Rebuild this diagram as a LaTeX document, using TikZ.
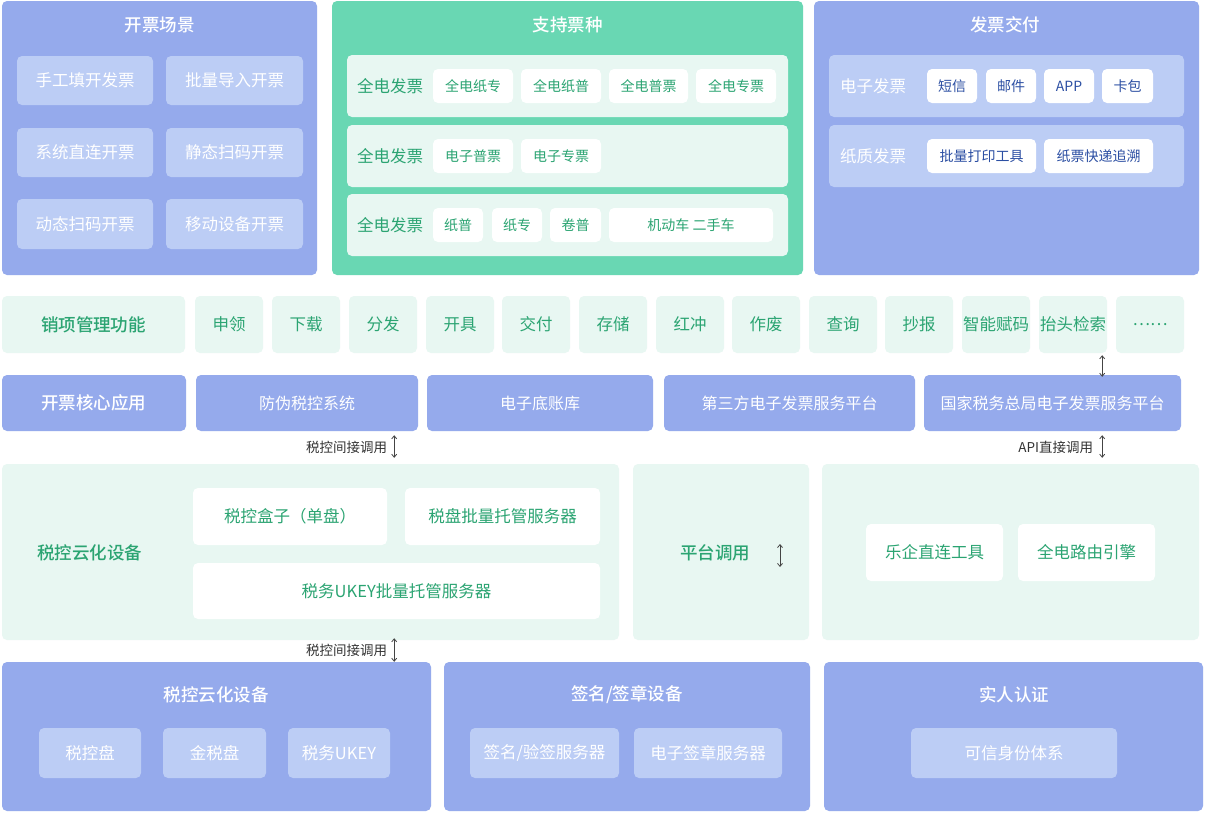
\documentclass[tikz,border=0pt]{standalone}
\usepackage{fontspec}
\setmainfont{Noto Sans CJK SC}[BoldFont={Noto Sans CJK SC Medium}]
\usetikzlibrary{arrows.meta}
\definecolor{pblue}{HTML}{95AAEC}
\definecolor{lblue}{HTML}{BCCDF5}
\definecolor{pgreen}{HTML}{69D7B3}
\definecolor{lgreen}{HTML}{E8F7F2}
\definecolor{tgreen}{HTML}{2BA472}
\definecolor{tblue}{HTML}{2C4FA3}
\definecolor{arrc}{HTML}{444444}
\definecolor{lblc}{HTML}{333333}
\newcommand\fsz[1]{\fontsize{#1}{#1}\selectfont}
\newcommand\mybox[7]{\node[#6, minimum width={#4pt-#2pt}, minimum height={#5pt-#3pt}] (#1) at ({(#2+#4)/2},{(#3+#5)/2}) {#7};}
\begin{document}
\begin{tikzpicture}[x=1pt,y=-1pt,
  base/.style={rounded corners=5pt, inner sep=0pt, draw=none},
  panelB/.style={base, fill=pblue},
  panelG/.style={base, fill=pgreen},
  lgbg/.style={base, fill=lgreen},
  lbbg/.style={base, fill=lblue},
  inB/.style={base, fill=lblue, text=white, font=\fsz{16.5}},
  wG/.style={base, fill=white, text=tgreen, font=\fsz{14}},
  wGL/.style={base, fill=white, text=tgreen, font=\fsz{16.5}},
  wB/.style={base, fill=white, text=tblue, font=\fsz{14}},
  lgItem/.style={base, fill=lgreen, text=tgreen, font=\fsz{16.5}},
  lgHead/.style={base, fill=lgreen, text=tgreen, font=\fsz{17.5}\bfseries},
  coreHead/.style={base, fill=pblue, text=white, font=\fsz{17.5}\bfseries},
  coreItem/.style={base, fill=pblue, text=white, font=\fsz{16}},
  ttl/.style={inner sep=0pt, text=white, font=\fsz{17.5}\bfseries},
  gTtl/.style={inner sep=0pt, text=tgreen, font=\fsz{17.5}\bfseries},
  rowLblG/.style={inner sep=0pt, text=tgreen, font=\fsz{16.5}},
  rowLblW/.style={inner sep=0pt, text=white, font=\fsz{16.5}},
  lbl/.style={inner sep=0pt, text=lblc, font=\fsz{13.5}},
  dbl/.style={draw=arrc, line width=0.8pt, {Straight Barb[length=3pt,width=5pt]}-{Straight Barb[length=3pt,width=5pt]}}
]
\useasboundingbox (0,0) rectangle (1205,812);
\fill[white] (0,0) rectangle (1205,812);

% ---------- top left: 开票场景
\mybox{kp}{2}{1}{317}{275}{panelB}{}
\node[ttl] (kpT) at (159.5,25) {开票场景};
\mybox{s1}{17}{56}{153}{105}{inB}{手工填开发票}
\mybox{s2}{166}{56}{303}{105}{inB}{批量导入开票}
\mybox{s3}{17}{128}{153}{177}{inB}{系统直连开票}
\mybox{s4}{166}{128}{303}{177}{inB}{静态扫码开票}
\mybox{s5}{17}{199}{153}{249}{inB}{动态扫码开票}
\mybox{s6}{166}{199}{303}{249}{inB}{移动设备开票}

% ---------- top middle: 支持票种
\mybox{zc}{332}{1}{803}{275}{panelG}{}
\node[ttl] (zcT) at (567.5,25) {支持票种};
\mybox{r1}{347}{55}{788}{117}{lgbg}{}
\mybox{r2}{347}{125}{788}{187}{lgbg}{}
\mybox{r3}{347}{194}{788}{256}{lgbg}{}
\node[rowLblG] (r1L) at (390,86) {全电发票};
\node[rowLblG] (r2L) at (390,156) {全电发票};
\node[rowLblG] (r3L) at (390,225) {全电发票};
\mybox{z11}{433}{69}{513}{103}{wG}{全电纸专}
\mybox{z12}{521}{69}{601}{103}{wG}{全电纸普}
\mybox{z13}{609}{69}{688}{103}{wG}{全电普票}
\mybox{z14}{696}{69}{776}{103}{wG}{全电专票}
\mybox{z21}{433}{139}{513}{173}{wG}{电子普票}
\mybox{z22}{521}{139}{601}{173}{wG}{电子专票}
\mybox{z31}{433}{208}{483}{242}{wG}{纸普}
\mybox{z32}{492}{208}{542}{242}{wG}{纸专}
\mybox{z33}{550}{208}{601}{242}{wG}{卷普}
\mybox{z34}{609}{208}{773}{242}{wG}{机动车 二手车}

% ---------- top right: 发票交付
\mybox{fp}{814}{1}{1199}{275}{panelB}{}
\node[ttl] (fpT) at (1005,25) {发票交付};
\mybox{e1}{829}{55}{1184}{117}{lbbg}{}
\mybox{e2}{829}{125}{1184}{187}{lbbg}{}
\node[rowLblW] (e1L) at (873,86) {电子发票};
\node[rowLblW] (e2L) at (873,156) {纸质发票};
\mybox{f11}{927}{69}{977}{103}{wB}{短信}
\mybox{f12}{986}{69}{1036}{103}{wB}{邮件}
\mybox{f13}{1044}{69}{1094}{103}{wB}{APP}
\mybox{f14}{1102}{69}{1153}{103}{wB}{卡包}
\mybox{f21}{927}{139}{1036}{173}{wB}{批量打印工具}
\mybox{f22}{1044}{139}{1153}{173}{wB}{纸票快递追溯}

% ---------- 销项管理功能 row
\mybox{xx}{2}{296}{185}{353}{lgHead}{销项管理功能}
\mybox{x1}{195}{296}{263}{353}{lgItem}{申领}
\mybox{x2}{272}{296}{340}{353}{lgItem}{下载}
\mybox{x3}{349}{296}{417}{353}{lgItem}{分发}
\mybox{x4}{426}{296}{494}{353}{lgItem}{开具}
\mybox{x5}{502}{296}{570}{353}{lgItem}{交付}
\mybox{x6}{579}{296}{647}{353}{lgItem}{存储}
\mybox{x7}{656}{296}{724}{353}{lgItem}{红冲}
\mybox{x8}{732}{296}{800}{353}{lgItem}{作废}
\mybox{x9}{809}{296}{877}{353}{lgItem}{查询}
\mybox{x10}{885}{296}{953}{353}{lgItem}{抄报}
\mybox{x11}{962}{296}{1030}{353}{lgItem}{智能赋码}
\mybox{tt}{1039}{296}{1107}{353}{lgItem}{抬头检索}
\mybox{x13}{1116}{296}{1184}{353}{lgItem}{……}

% ---------- 开票核心应用 row
\mybox{hx}{2}{375}{186}{431}{coreHead}{开票核心应用}
\mybox{ff}{196}{375}{418}{431}{coreItem}{防伪税控系统}
\mybox{dz}{427}{375}{653}{431}{coreItem}{电子底账库}
\mybox{ds}{664}{375}{915}{431}{coreItem}{第三方电子发票服务平台}
\mybox{gj}{924}{375}{1181}{431}{coreItem}{国家税务总局电子发票服务平台}

% ---------- middle section
\mybox{m1}{2}{464}{619}{640}{lgbg}{}
\node[gTtl] (m1L) at (90,553) {税控云化设备};
\mybox{m11}{193}{488}{387}{545}{wGL}{税控盒子（单盘）}
\mybox{m12}{405}{488}{600}{545}{wGL}{税盘批量托管服务器}
\mybox{m13}{193}{563}{600}{619}{wGL}{税务UKEY批量托管服务器}
\mybox{m2}{633}{464}{809}{640}{lgbg}{}
\node[gTtl] (m2L) at (715,553) {平台调用};
\mybox{m3}{822}{464}{1199}{640}{lgbg}{}
\mybox{m31}{866}{524}{1003}{581}{wGL}{乐企直连工具}
\mybox{m32}{1018}{524}{1155}{581}{wGL}{全电路由引擎}

% ---------- bottom section
\mybox{b1}{2}{662}{431}{811}{panelB}{}
\node[ttl] (b1T) at (216,695) {税控云化设备};
\mybox{b11}{39}{728}{141}{778}{inB}{税控盘}
\mybox{b12}{163}{728}{266}{778}{inB}{金税盘}
\mybox{b13}{288}{728}{390}{778}{inB}{税务UKEY}
\mybox{b2}{444}{662}{810}{811}{panelB}{}
\node[ttl] (b2T) at (627,695) {签名/签章设备};
\mybox{b21}{470}{728}{619}{778}{inB}{签名/验签服务器}
\mybox{b22}{634}{728}{782}{778}{inB}{电子签章服务器}
\mybox{b3}{824}{662}{1203}{811}{panelB}{}
\node[ttl] (b3T) at (1014,695) {实人认证};
\mybox{b31}{911}{728}{1117}{778}{inB}{可信身份体系}

% ---------- connectors
\coordinate (ax1) at ([xshift=-5]tt.south east);
\coordinate (ax2) at ([xshift=-24]ff.south east);
\draw[dbl, shorten <=2, shorten >=-2] (ax1) -- (ax1 |- gj.north);
\draw[dbl, shorten <=4, shorten >=6] (ax2 |- ff.south) -- (ax2 |- m1.north);
\draw[dbl, shorten <=4, shorten >=6] (ax1 |- gj.south) -- (ax1 |- m3.north);
\draw[dbl, shorten <=-2] (ax2 |- m1.south) -- (ax2 |- b1.north);
\draw[dbl] ([shift={(59,-8)}]m2.center) -- ([shift={(59,15)}]m2.center);
\node[lbl, anchor=east] (l1) at ([xshift=-7]ax2 |- 0,447) {税控间接调用};
\node[lbl, anchor=east] (l2) at ([xshift=-9]ax1 |- 0,447) {API直接调用};
\node[lbl, anchor=east] (l3) at ([xshift=-7]ax2 |- 0,650) {税控间接调用};
\end{tikzpicture}
\end{document}
